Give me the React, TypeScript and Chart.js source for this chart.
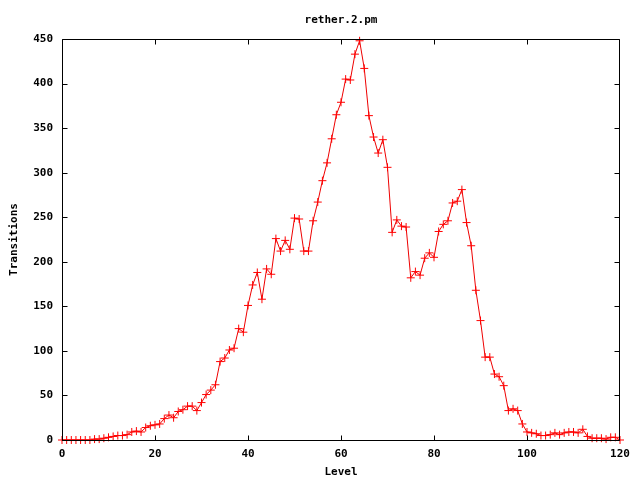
import React, { useEffect, useRef } from "react";
import { Chart, registerables } from "chart.js";

Chart.register(...registerables);

const chartTitle = "rether.2.pm";
const xAxisTitle = "Level";
const yAxisTitle = "Transitions";

const levels: number[] = Array.from({ length: 121 }, (_, i) => i);

const transitions: number[] = [
  0, 0, 0, 0, 0, 0, 0, 1, 1, 2,
  3, 4, 5, 5, 6, 9, 10, 9, 14, 16,
  17, 18, 24, 28, 25, 32, 34, 38, 38, 33,
  42, 51, 56, 62, 88, 92, 101, 103, 125, 121,
  151, 174, 188, 158, 192, 186, 226, 212, 224, 214,
  249, 248, 212, 212, 246, 267, 291, 311, 338, 365,
  379, 405, 404, 433, 448, 417, 364, 340, 322, 337,
  306, 233, 247, 240, 239, 182, 189, 185, 204, 210,
  205, 234, 242, 246, 266, 268, 281, 244, 218, 168,
  134, 93, 93, 74, 71, 61, 33, 35, 33, 18,
  9, 8, 7, 5, 5, 6, 8, 6, 8, 9,
  9, 8, 12, 4, 2, 2, 2, 1, 3, 3,
  0,
];

const xMin = 0;
const xMax = 120;
const xStep = 20;
const yMin = 0;
const yMax = 450;
const yStep = 50;

const FONT = "'DejaVu Sans Mono', 'Liberation Mono', monospace";

const framePlugin = {
  id: "gnuplotFrame",
  afterDraw(chart: any) {
    const { ctx, chartArea, scales } = chart;
    const { left, right, top, bottom } = chartArea;
    const L = Math.round(left) + 0.5;
    const R = Math.round(right) - 0.5;
    const T = Math.round(top) + 0.5;
    const B = Math.round(bottom) + 0.5;
    ctx.save();
    ctx.strokeStyle = "#000";
    ctx.lineWidth = 1;
    ctx.beginPath();
    ctx.rect(L, T, R - L, B - T);
    ctx.stroke();
    ctx.beginPath();
    for (let v = yMin; v <= yMax; v += yStep) {
      const y = Math.min(B, Math.max(T, Math.round(scales.y.getPixelForValue(v)) + 0.5));
      ctx.moveTo(L, y);
      ctx.lineTo(L + 5, y);
      ctx.moveTo(R, y);
      ctx.lineTo(R - 5, y);
    }
    for (let v = xMin; v <= xMax; v += xStep) {
      const x = Math.min(R, Math.max(L, Math.round(scales.x.getPixelForValue(v)) + 0.5));
      ctx.moveTo(x, B);
      ctx.lineTo(x, B - 5);
      ctx.moveTo(x, T);
      ctx.lineTo(x, T + 5);
    }
    ctx.stroke();
    ctx.fillStyle = "#000";
    ctx.font = `bold 11px ${FONT}`;
    ctx.textAlign = "center";
    ctx.textBaseline = "middle";
    ctx.fillText(chartTitle, (left + right) / 2, 20);
    ctx.restore();
  },
};

export default function App() {
  const ref = useRef<HTMLCanvasElement | null>(null);

  useEffect(() => {
    if (!ref.current) return;
    const chart = new Chart(ref.current, {
      type: "line",
      data: {
        datasets: [
          {
            data: levels.map((x, i) => ({ x, y: transitions[i] })),
            borderColor: "#ee0000",
            backgroundColor: "#ff0000",
            borderWidth: 1,
            pointStyle: "cross",
            pointRadius: 4,
            pointBorderWidth: 1,
            pointBorderColor: "#ff0000",
            tension: 0,
            fill: false,
            clip: false as any,
          },
        ],
      },
      options: {
        animation: false,
        responsive: false,
        devicePixelRatio: 1,
        layout: { padding: { top: 39, right: 20, left: 0, bottom: 0 } },
        plugins: {
          legend: { display: false },
          tooltip: { enabled: false },
          title: { display: false },
        },
        scales: {
          x: {
            type: "linear",
            min: xMin,
            max: xMax,
            grid: { display: false, drawTicks: false },
            border: { display: false },
            ticks: {
              stepSize: xStep,
              padding: 8,
              color: "#000",
              maxRotation: 0,
              font: { family: FONT, size: 11, weight: "bold" },
            },
            title: {
              display: true,
              text: xAxisTitle,
              color: "#000",
              font: { family: FONT, size: 11, weight: "bold" },
              padding: { top: 0, bottom: 1 },
            },
            afterFit(scale: any) {
              scale.height = 40;
            },
          },
          y: {
            type: "linear",
            min: yMin,
            max: yMax,
            grid: { display: false, drawTicks: false },
            border: { display: false },
            ticks: {
              stepSize: yStep,
              padding: 9,
              color: "#000",
              font: { family: FONT, size: 11, weight: "bold" },
            },
            title: {
              display: true,
              text: yAxisTitle,
              color: "#000",
              font: { family: FONT, size: 11, weight: "bold" },
              padding: { top: 8, bottom: 0 },
            },
            afterFit(scale: any) {
              scale.width = 62;
            },
          },
        },
      } as any,
      plugins: [framePlugin],
    });
    return () => chart.destroy();
  }, []);

  return (
    <div style={{ position: "fixed", left: 0, top: 0, width: 640, height: 480, background: "#fff" }}>
      <canvas ref={ref} width={640} height={480} style={{ width: 640, height: 480 }} />
    </div>
  );
}
